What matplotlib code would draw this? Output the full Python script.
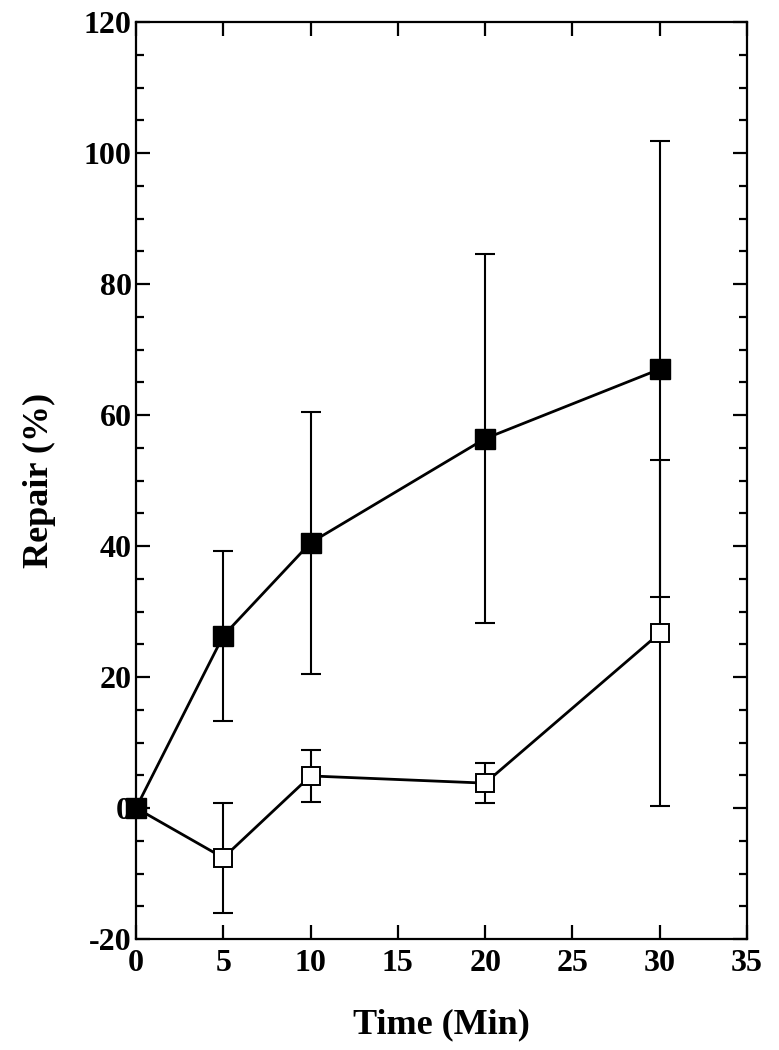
import matplotlib
matplotlib.use("Agg")
import matplotlib.pyplot as plt
from matplotlib.ticker import MultipleLocator

# data
time_min = [0, 5, 10, 20, 30]
repair_filled = [0.0, 26.3, 40.5, 56.4, 67.0]
err_filled = [0.0, 13.0, 20.0, 28.2, 34.8]
repair_open = [0.0, -7.6, 4.9, 3.8, 26.7]
err_open = [0.0, 8.4, 4.0, 3.1, 26.4]

plt.rcParams['font.family'] = ['Liberation Serif', 'DejaVu Serif']
plt.rcParams['font.weight'] = 'bold'
plt.rcParams['axes.unicode_minus'] = False

fig = plt.figure(figsize=(7.79, 10.5), dpi=100)
ax = fig.add_axes([0.1746, 0.1057, 0.7843, 0.8733])

# open squares
ax.errorbar(time_min, repair_open, yerr=err_open, fmt='none', ecolor='black',
            elinewidth=1.5, capsize=7.5, capthick=1.5, zorder=2, clip_on=False)
ax.plot(time_min, repair_open, color='black', lw=2.0, marker='s', ms=13.5,
        mfc='white', mec='black', mew=1.4, zorder=3, clip_on=False)

# filled squares
ax.errorbar(time_min, repair_filled, yerr=err_filled, fmt='none', ecolor='black',
            elinewidth=1.5, capsize=7.5, capthick=1.5, zorder=4, clip_on=False)
ax.plot(time_min, repair_filled, color='black', lw=2.0, marker='s', ms=14,
        mfc='black', mec='black', zorder=5, clip_on=False)

ax.set_xlim(0, 35)
ax.set_ylim(-20, 120)
ax.xaxis.set_major_locator(MultipleLocator(5))
ax.yaxis.set_major_locator(MultipleLocator(20))
ax.yaxis.set_minor_locator(MultipleLocator(5))

for s in ax.spines.values():
    s.set_linewidth(1.6)

ax.tick_params(which='both', direction='in', top=True, right=True, width=1.6)
ax.tick_params(which='major', length=10, labelsize=23)
ax.tick_params(which='minor', length=6)
ax.tick_params(axis='x', pad=7)
ax.tick_params(axis='y', pad=3)

ax.set_xlabel('Time (Min)', fontsize=26, fontweight='bold', labelpad=22)
ax.set_ylabel('Repair (%)', fontsize=26, fontweight='bold', labelpad=20)

fig.savefig('out.png', dpi=100)
